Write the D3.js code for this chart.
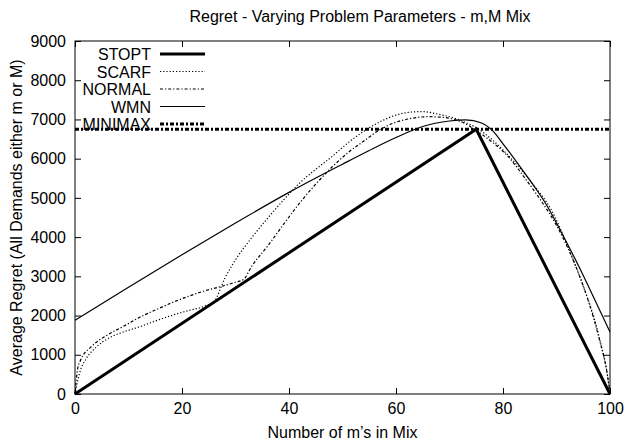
<!DOCTYPE html>
<html>
<head>
<meta charset="utf-8">
<script src="https://cdn.jsdelivr.net/npm/d3@7"></script>
<style>
  body { margin: 0; background: #fff; }
  text { font-family: "Liberation Sans", Arial, sans-serif; fill: #000; }
</style>
</head>
<body>
<svg width="628" height="443"></svg>
<script>
// values: [number of m's, regret]
const stopt = [[0, 0], [75, 6750], [100, 0]];
const scarf = [[0, 0], [1, 600], [2, 880], [4, 1200], [6, 1400], [9, 1580], [12, 1710], [15, 1860],
  [18, 2000], [21, 2120], [24, 2230], [26, 2360], [28, 2950], [30, 3420], [33, 3980], [36, 4480],
  [39, 4950], [42, 5380], [45, 5730], [48, 6050], [51, 6400], [54, 6700], [57, 6940], [60, 7110],
  [63, 7190], [65, 7200], [68, 7130], [71, 7030], [73, 6920], [75, 6790], [78, 6480], [80, 6220],
  [83, 5780], [86, 5280], [89, 4700], [92, 3800], [95, 2750], [97, 1950], [98.5, 1150], [99.5, 500], [100, 0]];
const normal = [[0, 0], [0.5, 650], [1, 850], [3, 1200], [6, 1500], [9, 1720], [12, 1950], [15, 2140],
  [18, 2320], [21, 2480], [24, 2620], [27, 2730], [30, 2850], [31.5, 2920], [33, 3250], [36, 3770],
  [39, 4330], [42, 4870], [45, 5350], [48, 5780], [51, 6150], [54, 6450], [57, 6740], [60, 6930],
  [63, 7030], [66, 7070], [69, 7050], [72, 6950], [75, 6720], [78, 6420], [81, 6050], [84, 5520],
  [87, 4950], [90, 4300], [93, 3450], [96, 2350], [98, 1400], [99.5, 500], [100, 0]];
const wmn = [[0, 1880], [10, 2720], [20, 3550], [30, 4360], [40, 5140], [50, 5860], [55, 6210],
  [60, 6540], [65, 6820], [70, 6960], [73, 6990], [76, 6910], [78, 6720], [80, 6380], [83, 5830],
  [86, 5260], [88, 4850], [91, 4100], [94, 3300], [97, 2450], [100, 1580]];
const minimax = [[0, 6750], [100, 6750]];

const xTicks = [0, 20, 40, 60, 80, 100];
const yTicks = [0, 1000, 2000, 3000, 4000, 5000, 6000, 7000, 8000, 9000];

const series = [
  { name: 'STOPT', data: stopt, width: 3, dash: null, curve: d3.curveLinear },
  { name: 'SCARF', data: scarf, width: 1.2, dash: '1.2,2', curve: d3.curveMonotoneX },
  { name: 'NORMAL', data: normal, width: 1.2, dash: '3,2,1.2,2', curve: d3.curveMonotoneX },
  { name: 'WMN', data: wmn, width: 1.2, dash: null, curve: d3.curveMonotoneX },
  { name: 'MINIMAX', data: minimax, width: 3, dash: '4,2,2,2', curve: d3.curveLinear }
];

const svg = d3.select('svg');
const margin = { left: 75, right: 18, top: 41, bottom: 49 };
const width = +svg.attr('width');
const height = +svg.attr('height');
const w = width - margin.left - margin.right;
const h = height - margin.top - margin.bottom;

const x = d3.scaleLinear().domain([0, 100]).range([0, w]);
const y = d3.scaleLinear().domain([0, 9000]).range([h, 0]);

const g = svg.append('g').attr('transform', `translate(${margin.left},${margin.top})`);

// axes with inward ticks, mirrored on top and right
const tickLen = 6;
const fontSize = '16px';
const styleAxis = sel => {
  sel.select('.domain').remove();
  sel.selectAll('line').attr('stroke', '#000');
  sel.selectAll('text').style('font-size', fontSize).style('font-family', '"Liberation Sans", Arial, sans-serif');
};
g.append('g').attr('transform', `translate(0,${h})`)
  .call(d3.axisBottom(x).tickValues(xTicks).tickSizeInner(-tickLen).tickPadding(9).tickFormat(d3.format('d')))
  .call(styleAxis);
g.append('g')
  .call(d3.axisTop(x).tickValues(xTicks).tickSizeInner(-tickLen).tickFormat(''))
  .call(styleAxis);
g.append('g')
  .call(d3.axisLeft(y).tickValues(yTicks).tickSizeInner(-tickLen).tickPadding(9).tickFormat(d3.format('d')))
  .call(styleAxis);
g.append('g').attr('transform', `translate(${w},0)`)
  .call(d3.axisRight(y).tickValues(yTicks).tickSizeInner(-tickLen).tickFormat(''))
  .call(styleAxis);

g.append('rect').attr('width', w).attr('height', h)
  .attr('fill', 'none').attr('stroke', '#000').attr('stroke-width', 1);

// curves
series.forEach(s => {
  const line = d3.line().x(d => x(d[0])).y(d => y(d[1])).curve(s.curve);
  g.append('path')
    .datum(s.data)
    .attr('d', line)
    .attr('fill', 'none')
    .attr('stroke', '#000')
    .attr('stroke-width', s.width)
    .attr('stroke-dasharray', s.dash)
    .attr('stroke-linejoin', 'miter');
});

// legend
const legend = g.append('g').attr('transform', 'translate(0,13)');
series.forEach((s, i) => {
  const row = legend.append('g').attr('transform', `translate(0,${i * 17.5})`);
  row.append('text').attr('x', 76).attr('y', 6)
    .attr('text-anchor', 'end').style('font-size', fontSize).text(s.name);
  row.append('line').attr('x1', 85).attr('x2', 130).attr('y1', 0).attr('y2', 0)
    .attr('stroke', '#000').attr('stroke-width', s.width).attr('stroke-dasharray', s.dash);
});

// titles
svg.append('text').attr('x', 360).attr('y', 22).attr('text-anchor', 'middle')
  .style('font-size', fontSize).text('Regret - Varying Problem Parameters - m,M Mix');
svg.append('text').attr('x', margin.left + w / 2).attr('y', 438).attr('text-anchor', 'middle')
  .style('font-size', fontSize).text('Number of m\u2019s in Mix');
svg.append('text').attr('transform', `translate(22,${margin.top + h / 2}) rotate(-90)`)
  .attr('text-anchor', 'middle').style('font-size', fontSize)
  .text('Average Regret (All Demands either m or M)');
</script>
</body>
</html>
